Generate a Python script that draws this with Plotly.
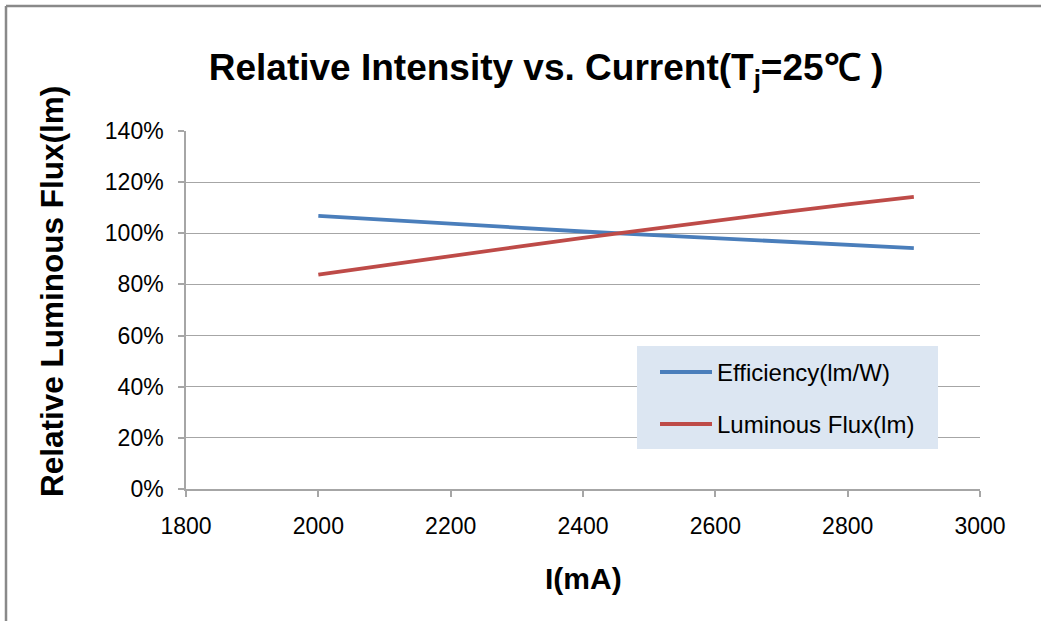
import plotly.graph_objects as go

current_mA = [2000, 2100, 2200, 2300, 2400, 2500, 2600, 2700, 2800, 2900]
efficiency = [1.068, 1.052, 1.037, 1.023, 1.007, 0.994, 0.981, 0.969, 0.955, 0.942]
luminous_flux = [0.838, 0.875, 0.911, 0.947, 0.982, 1.016, 1.050, 1.082, 1.113, 1.142]
series_names = ["Efficiency(lm/W)", "Luminous Flux(lm)"]
series_colors = ["#4a7ebb", "#be4b48"]
x_ticks = [1800, 2000, 2200, 2400, 2600, 2800, 3000]
y_ticks = [0, 0.2, 0.4, 0.6, 0.8, 1.0, 1.2, 1.4]

W, H = 1041, 621
L, R, T, B = 186, 61, 131, 132
pw, ph = W - L - R, H - T - B


def px_x(p):
    return (p - L) / pw


def px_y(p):
    return (H - B - p) / ph


fig = go.Figure()
fig.add_trace(go.Scatter(x=current_mA, y=efficiency, mode="lines", name=series_names[0],
                         line=dict(color=series_colors[0], width=3.8)))
fig.add_trace(go.Scatter(x=current_mA, y=luminous_flux, mode="lines", name=series_names[1],
                         line=dict(color=series_colors[1], width=3.8)))

axis_col = "#a6a6a6"
base_font = "Liberation Sans, Arial, sans-serif"

shapes = [
    # outer chart border (top and left visible)
    dict(type="line", xref="paper", yref="paper", x0=px_x(6), x1=px_x(W + 20),
         y0=px_y(6), y1=px_y(6), line=dict(color="#898989", width=2.5)),
    dict(type="line", xref="paper", yref="paper", x0=px_x(6), x1=px_x(6),
         y0=px_y(6), y1=px_y(H + 20), line=dict(color="#898989", width=2.5)),
    # legend box
    dict(type="rect", xref="paper", yref="paper", x0=px_x(637), x1=px_x(938),
         y0=px_y(449), y1=px_y(346), line=dict(width=0), fillcolor="#dce6f2", layer="above"),
]
annotations = [
    dict(text="<b>Relative Luminous Flux(lm)</b>", xref="paper", yref="paper",
         x=px_x(52), y=px_y(292), textangle=-90, showarrow=False,
         xanchor="center", yanchor="middle", font=dict(size=31.5)),
    dict(text="<b>I(mA)</b>", xref="paper", yref="paper",
         x=px_x(583), y=px_y(578), showarrow=False,
         xanchor="center", yanchor="middle", font=dict(size=30)),
]
legend_rows = [372, 424]
for name, col, ry in zip(series_names, series_colors, legend_rows):
    shapes.append(dict(type="line", xref="paper", yref="paper", x0=px_x(660), x1=px_x(712),
                       y0=px_y(ry), y1=px_y(ry), line=dict(color=col, width=4), layer="above"))
    annotations.append(dict(text=name, xref="paper", yref="paper", x=px_x(715), y=px_y(ry),
                            xanchor="left", yanchor="middle", showarrow=False,
                            font=dict(size=24, family=base_font)))

fig.update_layout(
    width=W, height=H,
    margin=dict(l=L, r=R, t=T, b=B),
    paper_bgcolor="white", plot_bgcolor="white",
    font=dict(family=base_font, color="#000000"),
    showlegend=False,
    title=dict(text="<b>Relative Intensity vs. Current(T<sub>j</sub>=25℃ )</b>",
               x=546 / W, xref="container", xanchor="center",
               y=1 - 67 / H, yref="container", yanchor="middle",
               font=dict(size=37, family=base_font)),
    xaxis=dict(range=[1800, 3000], tickvals=x_ticks, showgrid=False,
               showline=True, linecolor=axis_col, linewidth=1.5,
               ticks="outside", ticklen=6, tickcolor=axis_col, tickwidth=1.5,
               tickfont=dict(size=23), zeroline=False, ticklabelstandoff=10),
    yaxis=dict(range=[0, 1.4], tickvals=y_ticks, tickformat=".0%",
               showgrid=True, gridcolor="#a6a6a6", gridwidth=1.2,
               showline=True, linecolor=axis_col, linewidth=1.5,
               ticks="outside", ticklen=6, tickcolor=axis_col, tickwidth=1.5,
               tickfont=dict(size=23), zeroline=False, ticklabelstandoff=10),
    annotations=annotations,
    shapes=shapes,
)

fig.write_html("out.html", config={"displayModeBar": False},
               post_script="document.body.style.margin='0';document.body.style.overflow='hidden';")
